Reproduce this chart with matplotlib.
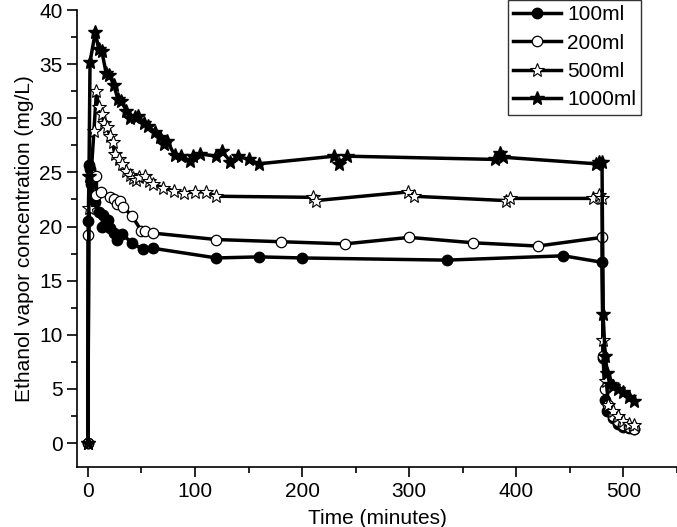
import matplotlib
matplotlib.use("Agg")
from matplotlib import pyplot as plt
from matplotlib.ticker import MultipleLocator

plt.rcParams['font.family'] = ['Liberation Sans', 'DejaVu Sans']

# 100 ml
t_100 = [0, 0.3, 1.2, 2, 3, 4.5, 6.5, 10, 14, 13, 19, 21, 24, 27, 32, 41, 51, 60.5,
         120, 160, 200, 335, 444, 480, 481, 483, 485, 490, 495, 500, 505, 510]
c_100 = [0, 20.5, 25.7, 25.3, 23.9, 22.9, 22.3, 21.3, 21.1, 20.0, 20.6, 19.9, 19.4, 18.8, 19.3, 18.5, 17.9, 18.0,
         17.1, 17.2, 17.1, 16.9, 17.3, 16.7, 7.9, 4.0, 3.0, 2.3, 1.8, 1.5, 1.4, 1.3]

# 200 ml
t_200 = [0, 0.3, 3.5, 8, 8, 12, 21, 24, 27, 30, 33, 41, 50, 53, 60.5,
         120, 180, 240, 300, 360, 420, 480, 481, 483, 486, 490, 495, 500, 505, 510]
c_200 = [0, 19.2, 24.8, 24.7, 22.9, 23.2, 22.7, 22.5, 22.1, 22.4, 21.8, 21.0, 19.6, 19.6, 19.4,
         18.8, 18.6, 18.4, 19.0, 18.5, 18.2, 19.0, 8.0, 5.0, 3.5, 2.5, 2.0, 1.7, 1.5, 1.3]

# 500 ml
t_500 = [0, 1, 5.6, 8, 10, 13, 15, 18, 20.5, 23, 25, 29, 32, 35.5, 39, 42, 45, 48, 53, 57, 61,
         70, 80, 90, 100, 110, 120, 210, 213, 299, 304, 390, 394, 472, 477, 480,
         481, 484, 486, 490, 495, 500, 505, 510]
c_500 = [0, 21.7, 28.8, 32.5, 31.0, 30.4, 29.6, 29.2, 28.4, 27.8, 26.7, 26.2, 25.8, 25.1, 24.8, 24.5, 24.3, 24.6, 24.7, 24.2, 23.9,
         23.6, 23.3, 23.1, 23.2, 23.2, 22.8, 22.7, 22.4, 23.2, 22.8, 22.4, 22.6, 22.6, 22.9, 22.6,
         9.5, 5.7, 3.5, 3.0, 2.5, 2.0, 1.8, 1.7]

# 1000 ml
t_1000 = [0, 1, 2, 7, 10, 13, 17, 20, 24, 28, 31, 36, 39, 44, 47, 52, 56, 63, 67, 71, 74,
          81, 87, 95, 98, 105, 120, 125, 133, 140, 150, 160, 230, 234, 242,
          380, 385, 388, 474, 477, 480, 481, 483, 485, 487, 490, 495, 500, 505, 510]
c_1000 = [0, 24.7, 35.2, 38.0, 36.4, 36.2, 34.2, 34.0, 33.1, 31.8, 31.6, 30.7, 30.0, 30.1, 30.2, 29.6, 29.3, 28.7, 28.3, 27.6, 27.9,
          26.6, 26.5, 26.1, 26.5, 26.7, 26.5, 27.0, 26.0, 26.5, 26.2, 25.8, 26.5, 25.8, 26.5,
          26.2, 26.8, 26.4, 25.8, 26.0, 26.0, 11.9, 8.0, 6.5, 5.5, 5.3, 5.0, 4.7, 4.3, 3.9]

labels = ['100ml', '200ml', '500ml', '1000ml']

fig = plt.figure(figsize=(6.77, 5.27), dpi=100)
ax = fig.add_axes([0.114, 0.114, 0.886, 0.867])

ax.plot(t_100, c_100, '-', color='black', lw=2.5, marker='o', ms=7.5,
        mfc='black', mec='black', label=labels[0])
ax.plot(t_200, c_200, '-', color='black', lw=2.5, marker='o', ms=7.5,
        mfc='white', mec='black', mew=0.9, label=labels[1])
ax.plot(t_500, c_500, '-', color='black', lw=2.5, marker='*', ms=10.5,
        mfc='white', mec='black', mew=0.8, label=labels[2])
ax.plot(t_1000, c_1000, '-', color='black', lw=2.5, marker='*', ms=10.5,
        mfc='black', mec='black', label=labels[3])

ax.set_xlim(-10, 550)
ax.set_ylim(-2.2, 40)
ax.xaxis.set_major_locator(MultipleLocator(100))
ax.xaxis.set_minor_locator(MultipleLocator(50))
ax.yaxis.set_major_locator(MultipleLocator(5))
ax.yaxis.set_minor_locator(MultipleLocator(2.5))
ax.tick_params(which='both', direction='out', labelsize=15, width=1.2)
ax.tick_params(which='major', length=7)
ax.tick_params(which='minor', length=4)

ax.spines['top'].set_visible(False)
ax.spines['right'].set_visible(False)
ax.spines['left'].set_linewidth(1.2)
ax.spines['bottom'].set_linewidth(1.2)

ax.set_xlabel('Time (minutes)', fontsize=15, labelpad=6)
ax.set_ylabel('Ethanol vapor concentration (mg/L)', fontsize=15, labelpad=4)

leg = ax.legend(loc='upper right', bbox_to_anchor=(0.947, 1.0), bbox_transform=fig.transFigure,
                fontsize=15, frameon=True, fancybox=False, borderpad=0.25,
                labelspacing=0.45, handlelength=2.3, handletextpad=0.3, borderaxespad=0)
leg.get_frame().set_edgecolor('black')
leg.get_frame().set_linewidth(1.0)

plt.savefig('out.png', dpi=100)
